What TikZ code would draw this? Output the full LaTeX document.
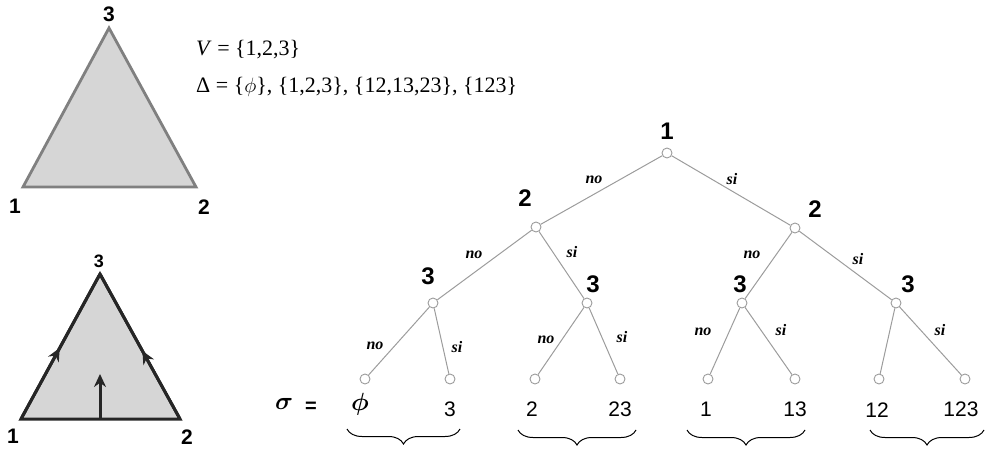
\documentclass[tikz,border=0pt]{standalone}
\usepackage{fontspec}
\setmainfont{Liberation Serif}
\newfontfamily\labfont{Liberation Sans}
\usetikzlibrary{arrows.meta,decorations.markings,decorations.pathreplacing}
\definecolor{trifill}{HTML}{D6D6D6}
\definecolor{triline}{HTML}{808080}
\definecolor{edgegray}{HTML}{9C9C9C}
\tikzset{
  vlabel/.style={font=\labfont\bfseries\fontsize{21}{21}\selectfont, inner sep=0pt},
  tlabel/.style={font=\labfont\bfseries\fontsize{24}{24}\selectfont, inner sep=0pt},
  leaflabel/.style={font=\labfont\fontsize{21}{21}\selectfont, inner sep=0pt},
  elabel/.style={font=\bfseries\itshape\fontsize{16}{16}\selectfont, inner sep=0pt},
  settext/.style={anchor=west, inner sep=0pt, font=\fontsize{22}{22}\selectfont},
  tnode/.style={circle, draw=edgegray, fill=white, line width=0.9pt, minimum size=10pt, inner sep=0pt},
  tedge/.style={draw=edgegray, line width=1pt},
  midarrow/.style={postaction={decorate, decoration={markings,
      mark=at position #1 with {\arrow{Stealth[length=13pt,width=12pt]}}}}},
  sbrace/.style={decorate, decoration={brace, mirror, amplitude=15pt}, line width=1pt}
}
\begin{document}
\begin{tikzpicture}[x=1pt,y=-1pt]
\useasboundingbox (0,0) rectangle (985,455);
% simplesso
\coordinate (a1) at (23,187);
\coordinate (a2) at (196,187);
\coordinate (a3) at (109,28);
\filldraw[fill=trifill, draw=triline, line width=2.8pt, line join=miter] (a1) -- (a2) -- (a3) -- cycle;
\node[vlabel] (la3) at (109,14) {3};
\node[vlabel] (la1) at (15,206) {1};
\node[vlabel] (la2) at (204,207) {2};
% orientazione
\coordinate (b1) at (21,419);
\coordinate (b2) at (180,419);
\coordinate (b3) at (100,274);
\coordinate (bm) at (100,419);
\coordinate (bt) at (100,374);
\fill[trifill] (b1) -- (b2) -- (b3) -- cycle;
\draw[line width=3pt, black!85, line join=miter] (b1) -- (b2) -- (b3) -- cycle;
\draw[line width=3pt, black!85, midarrow=0.49] (b1) -- (b3);
\draw[line width=3pt, black!85, midarrow=0.47] (b2) -- (b3);
\draw[line width=3pt, black!85, -{Stealth[length=13pt,width=12pt]}] (bm) -- (bt);
\node[font=\labfont\bfseries\fontsize{18}{18}\selectfont, inner sep=0pt] (lb3) at (99,261) {3};
\node[vlabel] (lb1) at (13,436) {1};
\node[vlabel] (lb2) at (187,437) {2};
% insiemi
\node[settext] (vset) at (196,50) {\textit{V} = \{1,2,3\}};
\node[settext] (dset) at (196,87)
  {Δ = \{$\phi$\}, \{1,2,3\}, \{12,13,23\}, \{123\}};
% albero
\node[tnode] (r) at (667,153) {};
\node[tnode] (n0) at (536,227) {};
\node[tnode] (n1) at (795,228) {};
\node[tnode] (n00) at (433,303) {};
\node[tnode] (n01) at (587,303) {};
\node[tnode] (n10) at (742,303) {};
\node[tnode] (n11) at (896,303) {};
\node[tnode] (f000) at (365,379) {};
\node[tnode] (f001) at (450,379) {};
\node[tnode] (f010) at (535,379) {};
\node[tnode] (f011) at (620,379) {};
\node[tnode] (f100) at (708,379) {};
\node[tnode] (f101) at (795,379) {};
\node[tnode] (f110) at (879,379) {};
\node[tnode] (f111) at (965,379) {};
\draw[tedge] (r) -- (n0);
\draw[tedge] (r) -- (n1);
\draw[tedge] (n0) -- (n00);
\draw[tedge] (n0) -- (n01);
\draw[tedge] (n1) -- (n10);
\draw[tedge] (n1) -- (n11);
\draw[tedge] (n00) -- (f000);
\draw[tedge] (n00) -- (f001);
\draw[tedge] (n01) -- (f010);
\draw[tedge] (n01) -- (f011);
\draw[tedge] (n10) -- (f100);
\draw[tedge] (n10) -- (f101);
\draw[tedge] (n11) -- (f110);
\draw[tedge] (n11) -- (f111);
% etichette dei nodi
\node[tlabel] (t1) at (667,131) {1};
\node[tlabel] (t2a) at (525,198) {2};
\node[tlabel] (t2b) at (815,209) {2};
\node[tlabel] (t3a) at (428,276) {3};
\node[tlabel] (t3b) at (593,284) {3};
\node[tlabel] (t3c) at (740,284) {3};
\node[tlabel] (t3d) at (908,284) {3};
% no / si
\node[elabel] (e1) at (594,180) {no};
\node[elabel] (e2) at (732,179) {si};
\node[elabel] (e3) at (474,255) {no};
\node[elabel] (e4) at (572,252) {si};
\node[elabel] (e5) at (752,255) {no};
\node[elabel] (e6) at (858,259) {si};
\node[elabel] (e7) at (375,346) {no};
\node[elabel] (e8) at (457,347) {si};
\node[elabel] (e9) at (546,340) {no};
\node[elabel] (e10) at (622,337) {si};
\node[elabel] (e11) at (703,332) {no};
\node[elabel] (e12) at (781,330) {si};
\node[elabel] (e13) at (940,330) {si};
% sigma
\node[font=\boldmath\fontsize{30}{30}\selectfont, inner sep=0pt] (sig) at (284,404) {$\sigma$};
\node[font=\labfont\bfseries\fontsize{20}{20}\selectfont, inner sep=0pt] (eq) at (311,407) {=};
\node[font=\boldmath\fontsize{24}{24}\selectfont, inner sep=0pt] (s1) at (360,404) {$\phi$};
\node[leaflabel] (s2) at (450,409) {3};
\node[leaflabel] (s3) at (532,409) {2};
\node[leaflabel] (s4) at (620,409) {23};
\node[leaflabel] (s5) at (706,409) {1};
\node[leaflabel] (s6) at (795,409) {13};
\node[leaflabel] (s7) at (877,410) {12};
\node[leaflabel] (s8) at (961,409) {123};
% graffe
\coordinate (g1l) at (347,429);
\coordinate (g1r) at (460,429);
\coordinate (g2l) at (518,430);
\coordinate (g2r) at (636,430);
\coordinate (g3l) at (687,430);
\coordinate (g3r) at (805,430);
\coordinate (g4l) at (870,430);
\coordinate (g4r) at (984,430);
\draw[sbrace] (g1l) -- (g1r);
\draw[sbrace] (g2l) -- (g2r);
\draw[sbrace] (g3l) -- (g3r);
\draw[sbrace] (g4l) -- (g4r);
\end{tikzpicture}
\end{document}
